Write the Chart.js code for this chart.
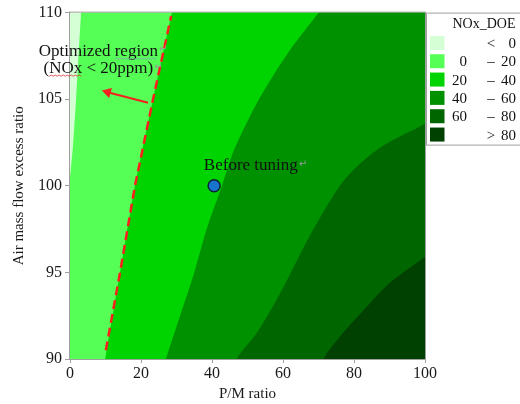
<!DOCTYPE html>
<html lang="en">
<head>
  <meta charset="UTF-8">
  <title>NOx_DOE contour</title>
  <script src="https://cdn.jsdelivr.net/npm/chart.js"></script>
  <style>
    html, body { margin: 0; padding: 0; background: #fff; }
    canvas { display: block; }
  </style>
</head>
<body>
  <canvas id="contourChart" width="520" height="404"></canvas>

  <script>
    // axis ticks
    const xTicks = [0, 20, 40, 60, 80, 100];
    const yTicks = [90, 95, 100, 105, 110];

    // NOx_DOE bands for the legend and their colours (lowest first)
    const levelLabels = [['', '<', '0'], ['0', '–', '20'], ['20', '–', '40'], ['40', '–', '60'], ['60', '–', '80'], ['', '>', '80']];
    const levelColors = ['#d5ffd5', '#55ff55', '#00d400', '#009100', '#006600', '#004000'];

    // contour lines [P/M ratio, air excess ratio]
    // everything right of a line belongs to the next band up
    const contour0 = [[-4, 88], [-1, 98], [0, 100.4], [0.9, 102.5], [1.7, 105], [2.4, 107.5], [3.1, 110], [3.5, 112]];
    const contour20 = [[8.5, 88], [9.9, 90], [14.1, 95], [18.3, 100], [23.4, 105], [28.7, 110], [29.8, 111]];
    const contour40 = [[24, 88], [27, 90], [31, 92.5], [35, 95], [38.5, 97.5], [42.8, 100], [45.5, 101.7], [48.5, 103.1], [53.5, 105.1], [61.5, 107.7], [70.1, 110], [74, 111]];
    const contour60 = [[44, 88], [47, 90], [52.6, 91.5], [59.2, 93.8], [65.7, 96.4], [71.4, 98.5], [77.9, 100.5], [87.3, 102.2], [100, 103.6], [115, 105.6], [140, 109], [150, 111]];
    const contour80 = [[68, 88], [71.4, 90], [76.1, 91.3], [82.6, 92.8], [90.1, 94.4], [100, 95.9], [115, 98.5], [135, 103], [160, 111]];

    // 20 ppm border (dashed), arrow and operating point
    const limitLine = [[10.1, 90.5], [14.1, 95], [18.3, 100], [23.4, 105], [28.5, 109.8]];
    const arrowLine = [[22.0, 104.8], [10.6, 105.4]];
    const beforeTuning = [[40.6, 100]];

    const serif = '"Liberation Serif", "Times New Roman", serif';
    const toXY = arr => arr.map(p => ({ x: p[0], y: p[1] }));
    const xMax = xTicks[xTicks.length - 1];

    const contours = [contour0, contour20, contour40, contour60, contour80];
    const bandSets = contours.map((c, i) => ({
      data: toXY(c),
      borderWidth: 0,
      pointRadius: 0,
      tension: 0.3,
      fill: { value: xMax },
      backgroundColor: levelColors[i + 1],
      order: 10 - i
    }));

    // area below all the bands + plot frame
    const plotFrame = {
      id: 'plotFrame',
      beforeDatasetsDraw(chart) {
        const a = chart.chartArea, ctx = chart.ctx;
        ctx.save();
        ctx.fillStyle = levelColors[0];
        ctx.fillRect(a.left, a.top, a.right - a.left, a.bottom - a.top);
        ctx.restore();
      },
      afterDatasetsDraw(chart) {
        const a = chart.chartArea, ctx = chart.ctx;
        ctx.save();
        ctx.strokeStyle = '#a0a0a0';
        ctx.lineWidth = 1;
        ctx.strokeRect(a.left - 0.5, a.top - 0.5, a.right - a.left + 1, a.bottom - a.top + 1);
        ctx.restore();
      }
    };

    function wavy(ctx, x0, x1, y, color) {
      ctx.save();
      ctx.strokeStyle = color;
      ctx.lineWidth = 0.8;
      ctx.beginPath();
      ctx.moveTo(x0, y);
      let up = true;
      for (let x = x0 + 2; x <= x1; x += 2) {
        ctx.lineTo(x, up ? y - 1.2 : y);
        up = !up;
      }
      ctx.stroke();
      ctx.restore();
    }

    // text notes and legend box
    const notes = {
      id: 'notes',
      afterDraw(chart) {
        const ctx = chart.ctx, xs = chart.scales.x, ys = chart.scales.y;
        ctx.save();
        ctx.fillStyle = '#111';
        ctx.font = '17px ' + serif;
        ctx.textBaseline = 'alphabetic';

        // Optimized region
        const cx = xs.getPixelForValue(8.0);
        const l1 = 'Optimized region', l2 = '(NOx < 20ppm)';
        const y1 = ys.getPixelForValue(107.48), y2 = ys.getPixelForValue(106.5);
        const w1 = ctx.measureText(l1).width, w2 = ctx.measureText(l2).width;
        ctx.textAlign = 'left';
        ctx.fillText(l1, cx - w1 / 2, y1);
        ctx.fillText(l2, cx - w2 / 2, y2);
        const regX = cx - w1 / 2 + ctx.measureText('Optimized ').width;
        wavy(ctx, regX, cx + w1 / 2, y1 + 3, '#8a9ab8');
        const noxX = cx - w2 / 2 + ctx.measureText('(').width;
        wavy(ctx, noxX, noxX + ctx.measureText('NOx').width, y2 + 3, '#e03030');

        // Before tuning
        ctx.fillStyle = '#111';
        const bx = xs.getPixelForValue(37.7), by = ys.getPixelForValue(100.89);
        ctx.fillText('Before tuning', bx, by);
        const bw = ctx.measureText('Before tuning').width;

        // paragraph marks
        ctx.font = '10px "DejaVu Sans"';
        ctx.fillStyle = '#9a9a9a';
        ctx.fillText('↵', cx + w1 / 2 + 1, y1 - 4);
        ctx.fillText('↵', cx + w2 / 2 + 1, y2 - 3);
        ctx.fillText('↵', bx + bw + 1, by - 3);

        // legend
        const lx = chart.chartArea.right + 1, ly = chart.chartArea.top;
        ctx.fillStyle = '#fff';
        ctx.fillRect(lx, ly, 120, 132);
        ctx.strokeStyle = '#a0a0a0';
        ctx.lineWidth = 1;
        ctx.strokeRect(lx + 0.5, ly + 0.5, 120, 132);
        ctx.fillStyle = '#111';
        ctx.font = '14px ' + serif;
        ctx.textAlign = 'center';
        ctx.fillText('NOx_DOE', lx + 58, ly + 15);
        ctx.font = '15px ' + serif;
        levelLabels.forEach((lab, i) => {
          const top = ly + 23.3 + i * 18.33;
          ctx.fillStyle = levelColors[i];
          ctx.fillRect(lx + 4, top, 14.5, 14);
          ctx.fillStyle = '#111';
          const base = top + 12;
          ctx.textAlign = 'right';
          ctx.fillText(lab[0], lx + 41, base);
          ctx.textAlign = 'center';
          ctx.fillText(lab[1], lx + 65, base);
          ctx.textAlign = 'right';
          ctx.fillText(lab[2], lx + 90, base);
        });
        ctx.restore();
      }
    };

    new Chart(document.getElementById('contourChart'), {
      type: 'line',
      data: {
        datasets: [
          ...bandSets,
          {
            data: toXY(limitLine),
            borderColor: '#ff1e1e',
            borderWidth: 2.5,
            borderDash: [9, 5],
            pointRadius: 0,
            fill: false,
            order: 2
          },
          {
            data: toXY(arrowLine),
            borderColor: '#f52020',
            backgroundColor: '#f52020',
            borderWidth: 2,
            pointStyle: 'triangle',
            pointRadius: [0, 6],
            pointBorderWidth: 0,
            pointRotation: [0, -74],
            fill: false,
            order: 1
          },
          {
            data: toXY(beforeTuning),
            showLine: false,
            pointRadius: 6,
            pointBackgroundColor: '#1874cd',
            pointBorderColor: '#0c2436',
            pointBorderWidth: 1.5,
            order: 0
          }
        ]
      },
      options: {
        indexAxis: 'y',
        responsive: false,
        animation: false,
        devicePixelRatio: 1,
        layout: { padding: { top: 10, right: 95, left: 0, bottom: 0 } },
        plugins: {
          legend: { display: false },
          tooltip: { enabled: false }
        },
        scales: {
          x: {
            type: 'linear',
            min: 0,
            max: 100,
            afterBuildTicks: s => { s.ticks = xTicks.map(v => ({ value: v })); },
            afterFit: s => { s.height = 45; },
            grid: { drawOnChartArea: false, tickLength: 4, color: '#a0a0a0' },
            border: { color: '#a0a0a0' },
            ticks: { font: { family: serif, size: 16 }, color: '#1a1a1a', padding: 1, maxRotation: 0 },
            title: { display: true, text: 'P/M ratio', font: { family: serif, size: 15 }, color: '#1a1a1a', padding: { top: 0, bottom: 1 } }
          },
          y: {
            type: 'linear',
            min: 90,
            max: 110,
            afterBuildTicks: s => { s.ticks = yTicks.map(v => ({ value: v })); },
            afterFit: s => { s.width = 70; },
            grid: { drawOnChartArea: false, tickLength: 5, color: '#a0a0a0' },
            border: { color: '#a0a0a0' },
            ticks: { font: { family: serif, size: 16 }, color: '#1a1a1a', padding: 3 },
            title: { display: true, text: 'Air mass flow excess ratio', font: { family: serif, size: 15 }, color: '#1a1a1a', padding: { top: 10, bottom: 0 } }
          }
        }
      },
      plugins: [plotFrame, notes]
    });
  </script>
</body>
</html>
